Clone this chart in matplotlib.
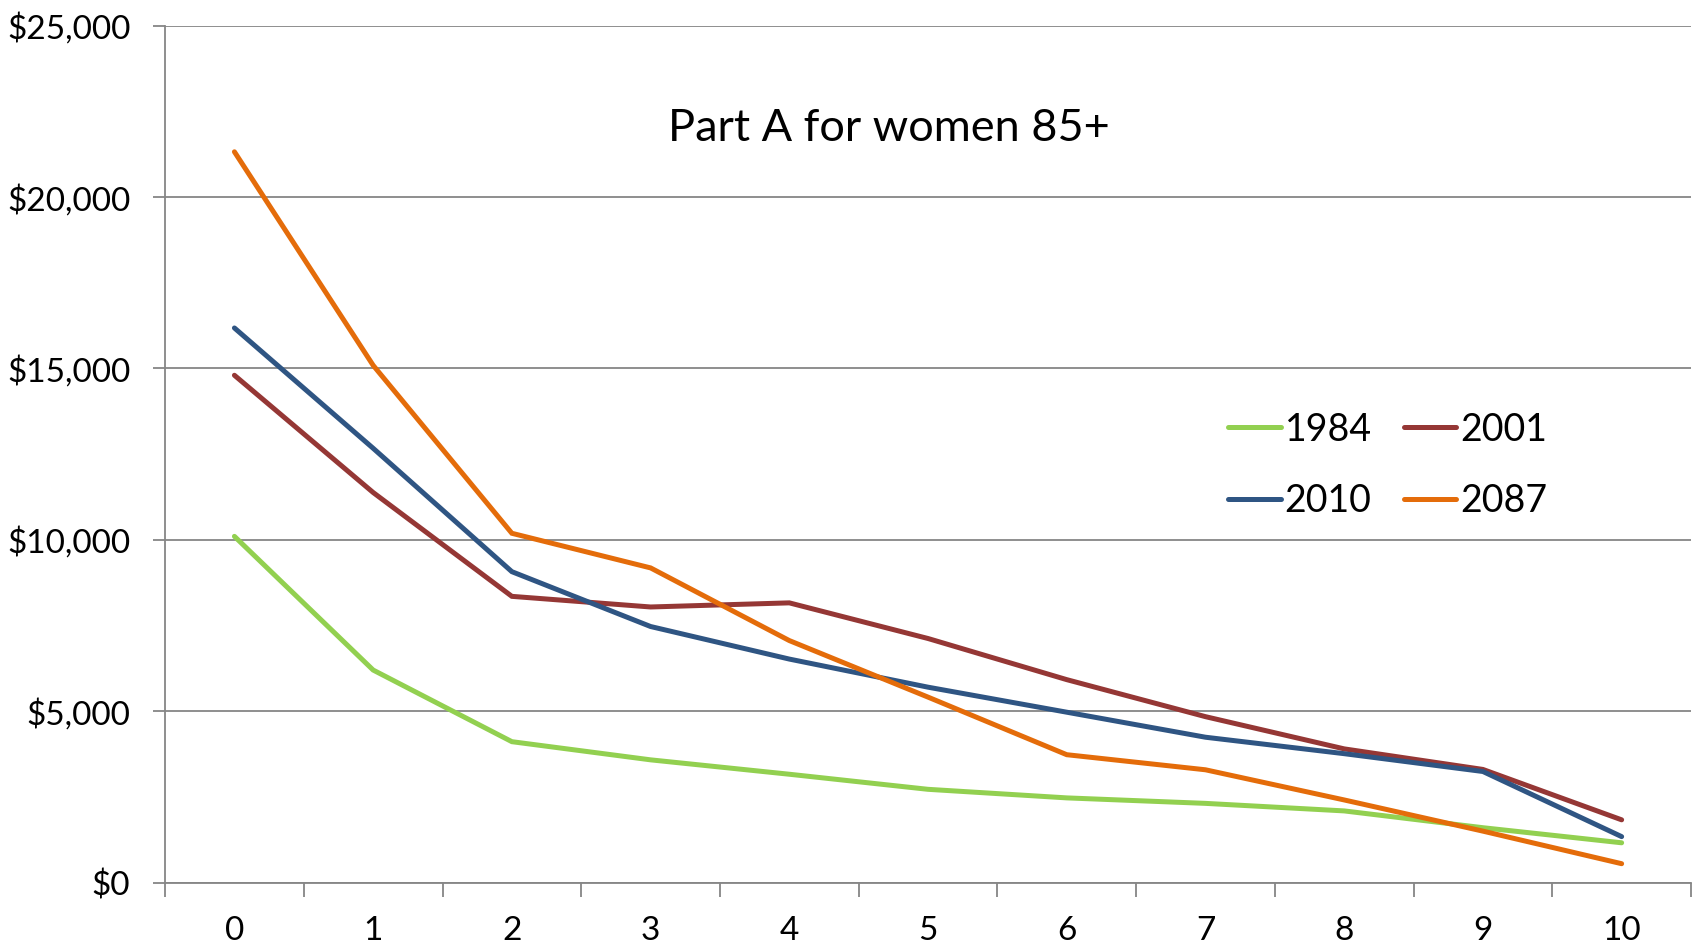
import matplotlib
matplotlib.use("Agg")
import matplotlib.pyplot as plt
from matplotlib.ticker import FuncFormatter, FixedLocator

plt.rcParams['font.family'] = ['Lato', 'DejaVu Sans']

# years since start of period
years = list(range(11))

cost_1984 = [10100, 6200, 4110, 3580, 3160, 2720, 2470, 2310, 2090, 1600, 1160]
cost_2001 = [14800, 11380, 8350, 8040, 8160, 7120, 5920, 4840, 3900, 3300, 1830]
cost_2010 = [16180, 12670, 9070, 7470, 6520, 5700, 4970, 4240, 3760, 3240, 1340]
cost_2087 = [21320, 15090, 10190, 9180, 7060, 5410, 3730, 3290, 2410, 1500, 550]

series = [
    ("1984", cost_1984, "#92D050"),
    ("2001", cost_2001, "#953735"),
    ("2010", cost_2010, "#2F5583"),
    ("2087", cost_2087, "#E46C0A"),
]

fig = plt.figure(figsize=(17, 9.44), dpi=100)
ax = fig.add_axes([0.0971, 0.0651, 0.8976, 0.9077])

lines = {}
for name, vals, col in series:
    lines[name], = ax.plot(years, vals, color=col, lw=3.6, label=name,
                           solid_capstyle='round', solid_joinstyle='miter', zorder=3)

grey = "#868686"
ax.set_xlim(-0.5, 10.5)
ax.set_ylim(0, 25000)
ax.set_yticks(range(0, 25001, 5000))
ax.yaxis.set_major_formatter(FuncFormatter(lambda v, p: "${:,.0f}".format(v)))
ax.grid(axis='y', color=grey, lw=1.3, zorder=0)
ax.set_axisbelow(True)

# category boundaries as ticks, labels centred between them
ax.xaxis.set_major_locator(FixedLocator([i - 0.5 for i in range(12)]))
ax.xaxis.set_minor_locator(FixedLocator(years))
ax.xaxis.set_major_formatter(FuncFormatter(lambda v, p: ""))
ax.xaxis.set_minor_formatter(FuncFormatter(lambda v, p: "{:d}".format(int(round(v)))))
ax.tick_params(axis='x', which='major', length=10, width=1.3, color=grey, direction='out')
ax.tick_params(axis='x', which='minor', length=0, pad=24, labelsize=24)
ax.tick_params(axis='y', length=9, width=1.3, color=grey, direction='out', pad=16, labelsize=24)

for side in ('top', 'right'):
    ax.spines[side].set_visible(False)
for side in ('left', 'bottom'):
    ax.spines[side].set_color(grey)
    ax.spines[side].set_linewidth(1.3)

fig.text(0.523, 0.864, "Part A for women 85+", ha='center', va='center', fontsize=32.5)

# legend fills column by column, so order entries to read 1984 2001 / 2010 2087 by row
order = ["1984", "2010", "2001", "2087"]
ax.legend([lines[k] for k in order], order, loc='center left',
          bbox_to_anchor=(0.7225, 0.507), bbox_transform=fig.transFigure,
          ncol=2, frameon=False, fontsize=27, handlelength=1.4, handletextpad=0.1,
          columnspacing=0.85, labelspacing=0.95, borderpad=0, borderaxespad=0)

fig.savefig("out.png", dpi=100)
